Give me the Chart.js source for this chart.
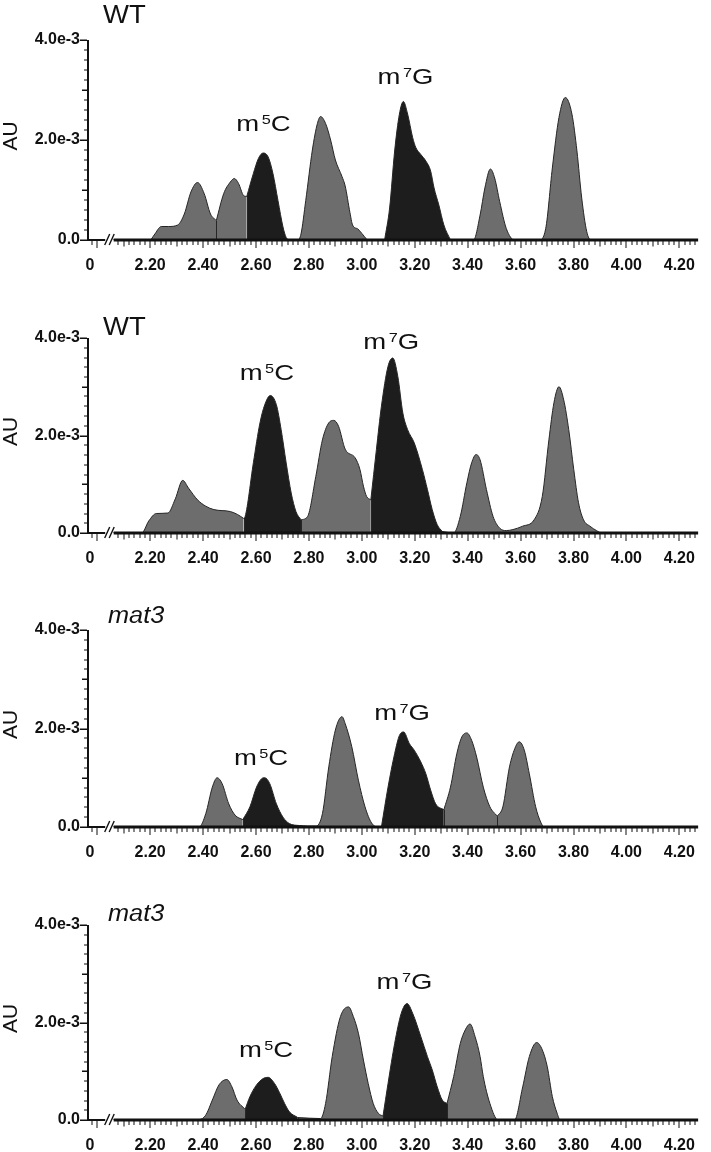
<!DOCTYPE html>
<html>
<head>
<meta charset="utf-8">
<script src="https://cdn.jsdelivr.net/npm/chart.js@4.4.0/dist/chart.umd.min.js"></script>
<style>
    html, body { margin: 0; padding: 0; background: #fff; }
    #page { position: relative; width: 711px; height: 1152px; overflow: hidden; }
    #page canvas { position: absolute; left: 0; }
</style>
</head>
<body>
<div id="page">
    <canvas id="c1"></canvas>
    <canvas id="c2"></canvas>
    <canvas id="c3"></canvas>
    <canvas id="c4"></canvas>
</div>
<script>
// 축 눈금 (시간: min, 흡광도: x1e-3 AU)
const xMin = 1.965;
const xMax = 4.271;
const xTickVals = [1.972, 2.2, 2.4, 2.6, 2.8, 3.0, 3.2, 3.4, 3.6, 3.8, 4.0, 4.2];
const yTickVals = [0, 2, 4];
const breakGap = [2.03, 2.062];

// WT (1)
const wtA_time = [2.06, 2.199, 2.215, 2.242, 2.27, 2.304, 2.329, 2.354, 2.379, 2.404,
    2.428, 2.45, 2.478, 2.503, 2.518, 2.534, 2.553, 2.565, 2.59, 2.609,
    2.627, 2.646, 2.664, 2.683, 2.702, 2.714, 2.724, 2.758, 2.77, 2.788,
    2.813, 2.832, 2.844, 2.863, 2.882, 2.9, 2.925, 2.937, 2.955, 2.965,
    2.985, 3.005, 3.024, 3.086, 3.105, 3.124, 3.142, 3.157, 3.173, 3.192,
    3.204, 3.223, 3.242, 3.26, 3.273, 3.291, 3.31, 3.335, 3.422, 3.447,
    3.465, 3.486, 3.502, 3.521, 3.546, 3.577, 3.67, 3.695, 3.72, 3.745,
    3.769, 3.794, 3.813, 3.831, 3.85, 3.866, 4.27];
const wtA_au = [0, 0, 0.1, 0.27, 0.27, 0.3, 0.52, 0.96, 1.15, 0.93,
    0.52, 0.39, 0.93, 1.16, 1.23, 1.13, 0.89, 0.87, 1.33, 1.63,
    1.74, 1.66, 1.33, 0.79, 0.26, 0.05, 0, 0, 0.12, 0.79,
    1.8, 2.33, 2.47, 2.33, 2.0, 1.6, 1.27, 1.08, 0.55, 0.3,
    0.22, 0.1, 0, 0, 0.64, 1.78, 2.52, 2.77, 2.52, 2.05,
    1.85, 1.71, 1.58, 1.38, 1.04, 0.7, 0.3, 0, 0, 0.5,
    1.04, 1.42, 1.24, 0.77, 0.23, 0, 0, 0.23, 1.44, 2.45,
    2.85, 2.52, 1.78, 0.84, 0.17, 0, 0];
const wtA_cuts = [2.45, 2.565, 2.724, 3.086, 3.335];
const wtA_dark = [2, 4];

// WT (2)
const wtB_time = [2.06, 2.168, 2.195, 2.223, 2.267, 2.295, 2.323, 2.345, 2.379, 2.41,
    2.441, 2.503, 2.53, 2.553, 2.559, 2.59, 2.615, 2.633, 2.654, 2.677,
    2.695, 2.714, 2.733, 2.751, 2.77, 2.795, 2.826, 2.851, 2.875, 2.894,
    2.912, 2.937, 2.975, 2.993, 3.006, 3.018, 3.034, 3.055, 3.074, 3.099,
    3.117, 3.136, 3.155, 3.173, 3.198, 3.229, 3.248, 3.266, 3.285, 3.304,
    3.347, 3.372, 3.397, 3.415, 3.432, 3.447, 3.471, 3.496, 3.521, 3.546,
    3.571, 3.608, 3.651, 3.682, 3.707, 3.726, 3.745, 3.763, 3.782, 3.801,
    3.819, 3.838, 3.862, 3.887, 3.906, 4.27];
const wtB_au = [0, 0, 0.25, 0.4, 0.41, 0.7, 1.08, 0.92, 0.68, 0.55,
    0.48, 0.44, 0.38, 0.3, 0.34, 1.44, 2.26, 2.63, 2.82, 2.63,
    2.12, 1.44, 0.82, 0.44, 0.27, 0.34, 1.16, 1.91, 2.26, 2.31,
    2.19, 1.72, 1.54, 1.3, 0.96, 0.75, 0.68, 1.71, 2.6, 3.42,
    3.59, 3.21, 2.46, 2.12, 1.85, 1.3, 0.89, 0.48, 0.17, 0.03,
    0, 0.34, 1.03, 1.44, 1.61, 1.5, 0.89, 0.34, 0.1, 0.05,
    0.07, 0.14, 0.27, 0.75, 1.91, 2.67, 3.0, 2.73, 2.12, 1.3,
    0.62, 0.27, 0.14, 0.05, 0, 0];
const wtB_cuts = [2.553, 2.77, 3.034, 3.304];
const wtB_dark = [1, 3];

// mat3 (1)
const matA_time = [2.06, 2.385, 2.41, 2.435, 2.453, 2.472, 2.497, 2.521, 2.55, 2.577,
    2.602, 2.621, 2.633, 2.652, 2.677, 2.702, 2.726, 2.764, 2.795, 2.826,
    2.851, 2.875, 2.9, 2.925, 2.937, 2.962, 2.987, 3.012, 3.037, 3.062,
    3.074, 3.099, 3.124, 3.142, 3.158, 3.18, 3.198, 3.223, 3.242, 3.26,
    3.279, 3.31, 3.335, 3.359, 3.378, 3.397, 3.415, 3.434, 3.459, 3.484,
    3.512, 3.533, 3.558, 3.581, 3.595, 3.614, 3.633, 3.657, 3.676, 3.689,
    4.27];
const matA_au = [0, 0, 0.27, 0.81, 1.0, 0.88, 0.47, 0.24, 0.15, 0.41,
    0.81, 0.98, 1.0, 0.88, 0.47, 0.2, 0.07, 0.03, 0.02, 0.02,
    0.27, 1.22, 1.97, 2.24, 2.1, 1.63, 0.95, 0.41, 0.08, 0,
    0, 0.81, 1.49, 1.86, 1.93, 1.69, 1.56, 1.32, 1.08, 0.75,
    0.47, 0.35, 0.81, 1.49, 1.83, 1.91, 1.76, 1.42, 0.81, 0.41,
    0.22, 0.41, 1.22, 1.63, 1.73, 1.56, 1.08, 0.41, 0.1, 0,
    0];
const matA_cuts = [2.55, 2.795, 3.074, 3.31, 3.512];
const matA_dark = [1, 3];

// mat3 (2)
const matB_time = [2.06, 2.385, 2.41, 2.435, 2.46, 2.49, 2.509, 2.528, 2.559, 2.577,
    2.602, 2.627, 2.646, 2.67, 2.689, 2.708, 2.726, 2.758, 2.844, 2.863,
    2.888, 2.919, 2.95, 2.968, 2.987, 3.006, 3.024, 3.043, 3.062, 3.08,
    3.099, 3.124, 3.149, 3.171, 3.192, 3.223, 3.248, 3.266, 3.285, 3.304,
    3.322, 3.347, 3.372, 3.391, 3.409, 3.428, 3.447, 3.459, 3.484, 3.515,
    3.577, 3.608, 3.633, 3.661, 3.682, 3.701, 3.72, 3.738, 3.75, 4.27];
const matB_au = [0, 0.01, 0.1, 0.41, 0.72, 0.83, 0.68, 0.41, 0.22, 0.48,
    0.72, 0.85, 0.875, 0.75, 0.56, 0.34, 0.17, 0.05, 0.03, 0.34,
    1.3, 2.12, 2.32, 2.12, 1.78, 1.23, 0.75, 0.34, 0.14, 0.08,
    0.75, 1.57, 2.19, 2.39, 2.19, 1.71, 1.3, 1.03, 0.68, 0.41,
    0.34, 0.89, 1.57, 1.85, 1.97, 1.71, 1.3, 0.89, 0.34, 0,
    0, 0.68, 1.3, 1.59, 1.44, 1.09, 0.48, 0.14, 0, 0];
const matB_cuts = [2.559, 2.758, 3.08, 3.322];
const matB_dark = [1, 3];

// 색상 / 폰트
const FILL_GRAY = '#6d6d6d';
const FILL_DARK = '#1d1d1d';
const EDGE = '#262626';
const TICK_FONT = "'Liberation Sans', Arial, Helvetica, sans-serif";
const TEXT_FONT = "'Liberation Sans', Arial, Helvetica, sans-serif";

// 패널 배치 (픽셀 위치와 라벨 위치)
const panels = [
    { canvas: 'c1', time: wtA_time, au: wtA_au, cuts: wtA_cuts, dark: wtA_dark,
      name: 'WT', italic: false, top: 40, bottom: 240, titleX: 15, titleDy: -17,
      m5C: [2.628, 2.19], m7G: [3.165, 3.13] },
    { canvas: 'c2', time: wtB_time, au: wtB_au, cuts: wtB_cuts, dark: wtB_dark,
      name: 'WT', italic: false, top: 338, bottom: 533, titleX: 15, titleDy: -3,
      m5C: [2.641, 3.14], m7G: [3.111, 3.77] },
    { canvas: 'c3', time: matA_time, au: matA_au, cuts: matA_cuts, dark: matA_dark,
      name: 'mat3', italic: true, top: 630, bottom: 827, titleX: 20, titleDy: -7,
      m5C: [2.619, 1.25], m7G: [3.152, 2.18] },
    { canvas: 'c4', time: matB_time, au: matB_au, cuts: matB_cuts, dark: matB_dark,
      name: 'mat3', italic: true, top: 925, bottom: 1120, titleX: 20, titleDy: -4,
      m5C: [2.638, 1.3], m7G: [3.161, 2.69] }
];

// 적분 구간별로 트레이스 나누기
function splitRegions(time, au, cuts) {
    const edges = [time[0], ...cuts, time[time.length - 1]];
    const regions = [];
    for (let r = 0; r < edges.length - 1; r++) {
        const pts = [];
        time.forEach((t, i) => {
            if (t >= edges[r] - 1e-9 && t <= edges[r + 1] + 1e-9) {
                pts.push({ x: t, y: au[i] });
            }
        });
        regions.push(pts);
    }
    return regions;
}

// m⁵C 같은 위첨자 라벨
function drawModLabel(ctx, base, sup, tail, cx, by, stretch) {
    ctx.save();
    ctx.font = '22px ' + TEXT_FONT;
    const wBase = ctx.measureText(base).width;
    const wTail = ctx.measureText(tail).width;
    ctx.font = '13px ' + TEXT_FONT;
    const wSup = ctx.measureText(sup).width;
    const total = (wBase + 2 + wSup + wTail) * stretch;
    ctx.translate(cx - total / 2, by);
    ctx.scale(stretch, 1);
    ctx.fillStyle = '#111';
    ctx.textBaseline = 'alphabetic';
    ctx.textAlign = 'left';
    ctx.font = '22px ' + TEXT_FONT;
    ctx.fillText(base, 0, 0);
    ctx.font = '13px ' + TEXT_FONT;
    ctx.fillText(sup, wBase + 2, -7);
    ctx.font = '22px ' + TEXT_FONT;
    ctx.fillText(tail, wBase + 2 + wSup, 0);
    ctx.restore();
}

// 축, 눈금, 끊김 표시, 라벨
function makeAxesPlugin(p) {
    return {
        id: 'chromAxes',
        afterDatasetsDraw(chart) {
            const { ctx, chartArea: a, scales: { x, y } } = chart;
            const y0 = y.getPixelForValue(0);
            ctx.save();
            ctx.fillStyle = '#111';
            ctx.strokeStyle = EDGE;

            // 적분 경계선
            ctx.lineWidth = 1;
            p.cuts.forEach(c => {
                const i = p.time.findIndex(t => Math.abs(t - c) < 1e-9);
                const v = p.au[i];
                if (v > 0.02) {
                    const px = Math.round(x.getPixelForValue(c)) + 0.5;
                    ctx.beginPath();
                    ctx.moveTo(px, y0);
                    ctx.lineTo(px, y.getPixelForValue(v));
                    ctx.stroke();
                }
            });

            // y축
            ctx.fillRect(a.left - 1, a.top, 2, y0 - a.top + 1);
            for (let k = 0; k <= 20; k++) {
                const py = Math.round(y.getPixelForValue(k * 0.2));
                const len = k % 10 === 0 ? 7 : (k % 5 === 0 ? 5 : 3);
                ctx.fillRect(a.left - 1 - len, py - 0.5, len, k % 5 === 0 ? 1.5 : 1);
            }

            // x축 (끊김 포함)
            const xb0 = x.getPixelForValue(breakGap[0]);
            const xb1 = x.getPixelForValue(breakGap[1]);
            ctx.fillRect(a.left - 1, y0 - 1, xb0 - a.left + 1, 2);
            ctx.fillRect(xb1, y0 - 1.5, a.right - xb1, 3);
            ctx.strokeStyle = '#111';
            ctx.lineWidth = 1.4;
            [xb0 + 2, xb0 + 6.5].forEach(sx => {
                ctx.beginPath();
                ctx.moveTo(sx - 2.5, y0 + 5);
                ctx.lineTo(sx + 2.5, y0 - 6);
                ctx.stroke();
            });
            for (let k = 99; k <= 213; k++) {
                const t = k / 50;
                if (t > breakGap[0] - 0.015 && t < breakGap[1] + 0.015) continue;
                const px = Math.round(x.getPixelForValue(t));
                const len = k % 10 === 0 ? 7 : (k % 5 === 0 ? 5.5 : 4);
                ctx.fillRect(px - 0.5, y0, 1, len + 1);
            }

            // AU 축 제목
            ctx.save();
            ctx.translate(11, (a.top + a.bottom) / 2 - 4);
            ctx.rotate(-Math.PI / 2);
            ctx.font = '21px ' + TEXT_FONT;
            ctx.textAlign = 'center';
            ctx.textBaseline = 'middle';
            ctx.fillText('AU', 0, 0);
            ctx.restore();

            // 패널 제목
            ctx.save();
            ctx.translate(a.left + p.titleX, a.top + p.titleDy);
            ctx.scale(1.1, 1);
            ctx.font = (p.italic ? 'italic 23px ' : '25px ') + TEXT_FONT;
            ctx.textAlign = 'left';
            ctx.textBaseline = 'alphabetic';
            ctx.fillText(p.name, 0, 0);
            ctx.restore();

            // 피크 라벨
            drawModLabel(ctx, 'm', '5', 'C', x.getPixelForValue(p.m5C[0]), y.getPixelForValue(p.m5C[1]), 1.25);
            drawModLabel(ctx, 'm', '7', 'G', x.getPixelForValue(p.m7G[0]), y.getPixelForValue(p.m7G[1]), 1.25);

            ctx.restore();
        }
    };
}

function renderPanel(p) {
    const canvas = document.getElementById(p.canvas);
    canvas.width = 711;
    canvas.height = p.bottom - p.top + 82;
    canvas.style.top = (p.top - 40) + 'px';
    canvas.style.width = '711px';
    canvas.style.height = canvas.height + 'px';

    const datasets = splitRegions(p.time, p.au, p.cuts).map((pts, r) => ({
        data: pts,
        fill: 'origin',
        backgroundColor: p.dark.includes(r) ? FILL_DARK : FILL_GRAY,
        borderColor: EDGE,
        borderWidth: 1,
        pointRadius: 0,
        cubicInterpolationMode: 'monotone'
    }));

    return new Chart(canvas, {
        type: 'line',
        data: { datasets: datasets },
        options: {
            responsive: false,
            animation: false,
            devicePixelRatio: 1,
            layout: { padding: { top: 40, right: 3, left: 0, bottom: 0 } },
            plugins: { legend: { display: false }, tooltip: { enabled: false } },
            scales: {
                x: {
                    type: 'linear',
                    min: xMin,
                    max: xMax,
                    grid: { display: false, drawTicks: false },
                    border: { display: false },
                    afterBuildTicks: s => { s.ticks = xTickVals.map(v => ({ value: v })); },
                    afterFit: s => { s.height = 42; },
                    ticks: {
                        autoSkip: false,
                        maxRotation: 0,
                        padding: 16,
                        color: '#111',
                        font: { family: TICK_FONT, size: 16, weight: 'bold' },
                        callback: v => (v < 2 ? '0' : v.toFixed(2))
                    }
                },
                y: {
                    min: 0,
                    max: 4,
                    grid: { display: false, drawTicks: false },
                    border: { display: false },
                    afterBuildTicks: s => { s.ticks = yTickVals.map(v => ({ value: v })); },
                    afterFit: s => { s.width = 88; },
                    ticks: {
                        padding: 8,
                        color: '#111',
                        font: { family: TICK_FONT, size: 16, weight: 'bold' },
                        callback: v => (v === 0 ? '0.0' : v.toFixed(1) + 'e-3')
                    }
                }
            }
        },
        plugins: [makeAxesPlugin(p)]
    });
}

panels.forEach(renderPanel);
</script>
</body>
</html>
